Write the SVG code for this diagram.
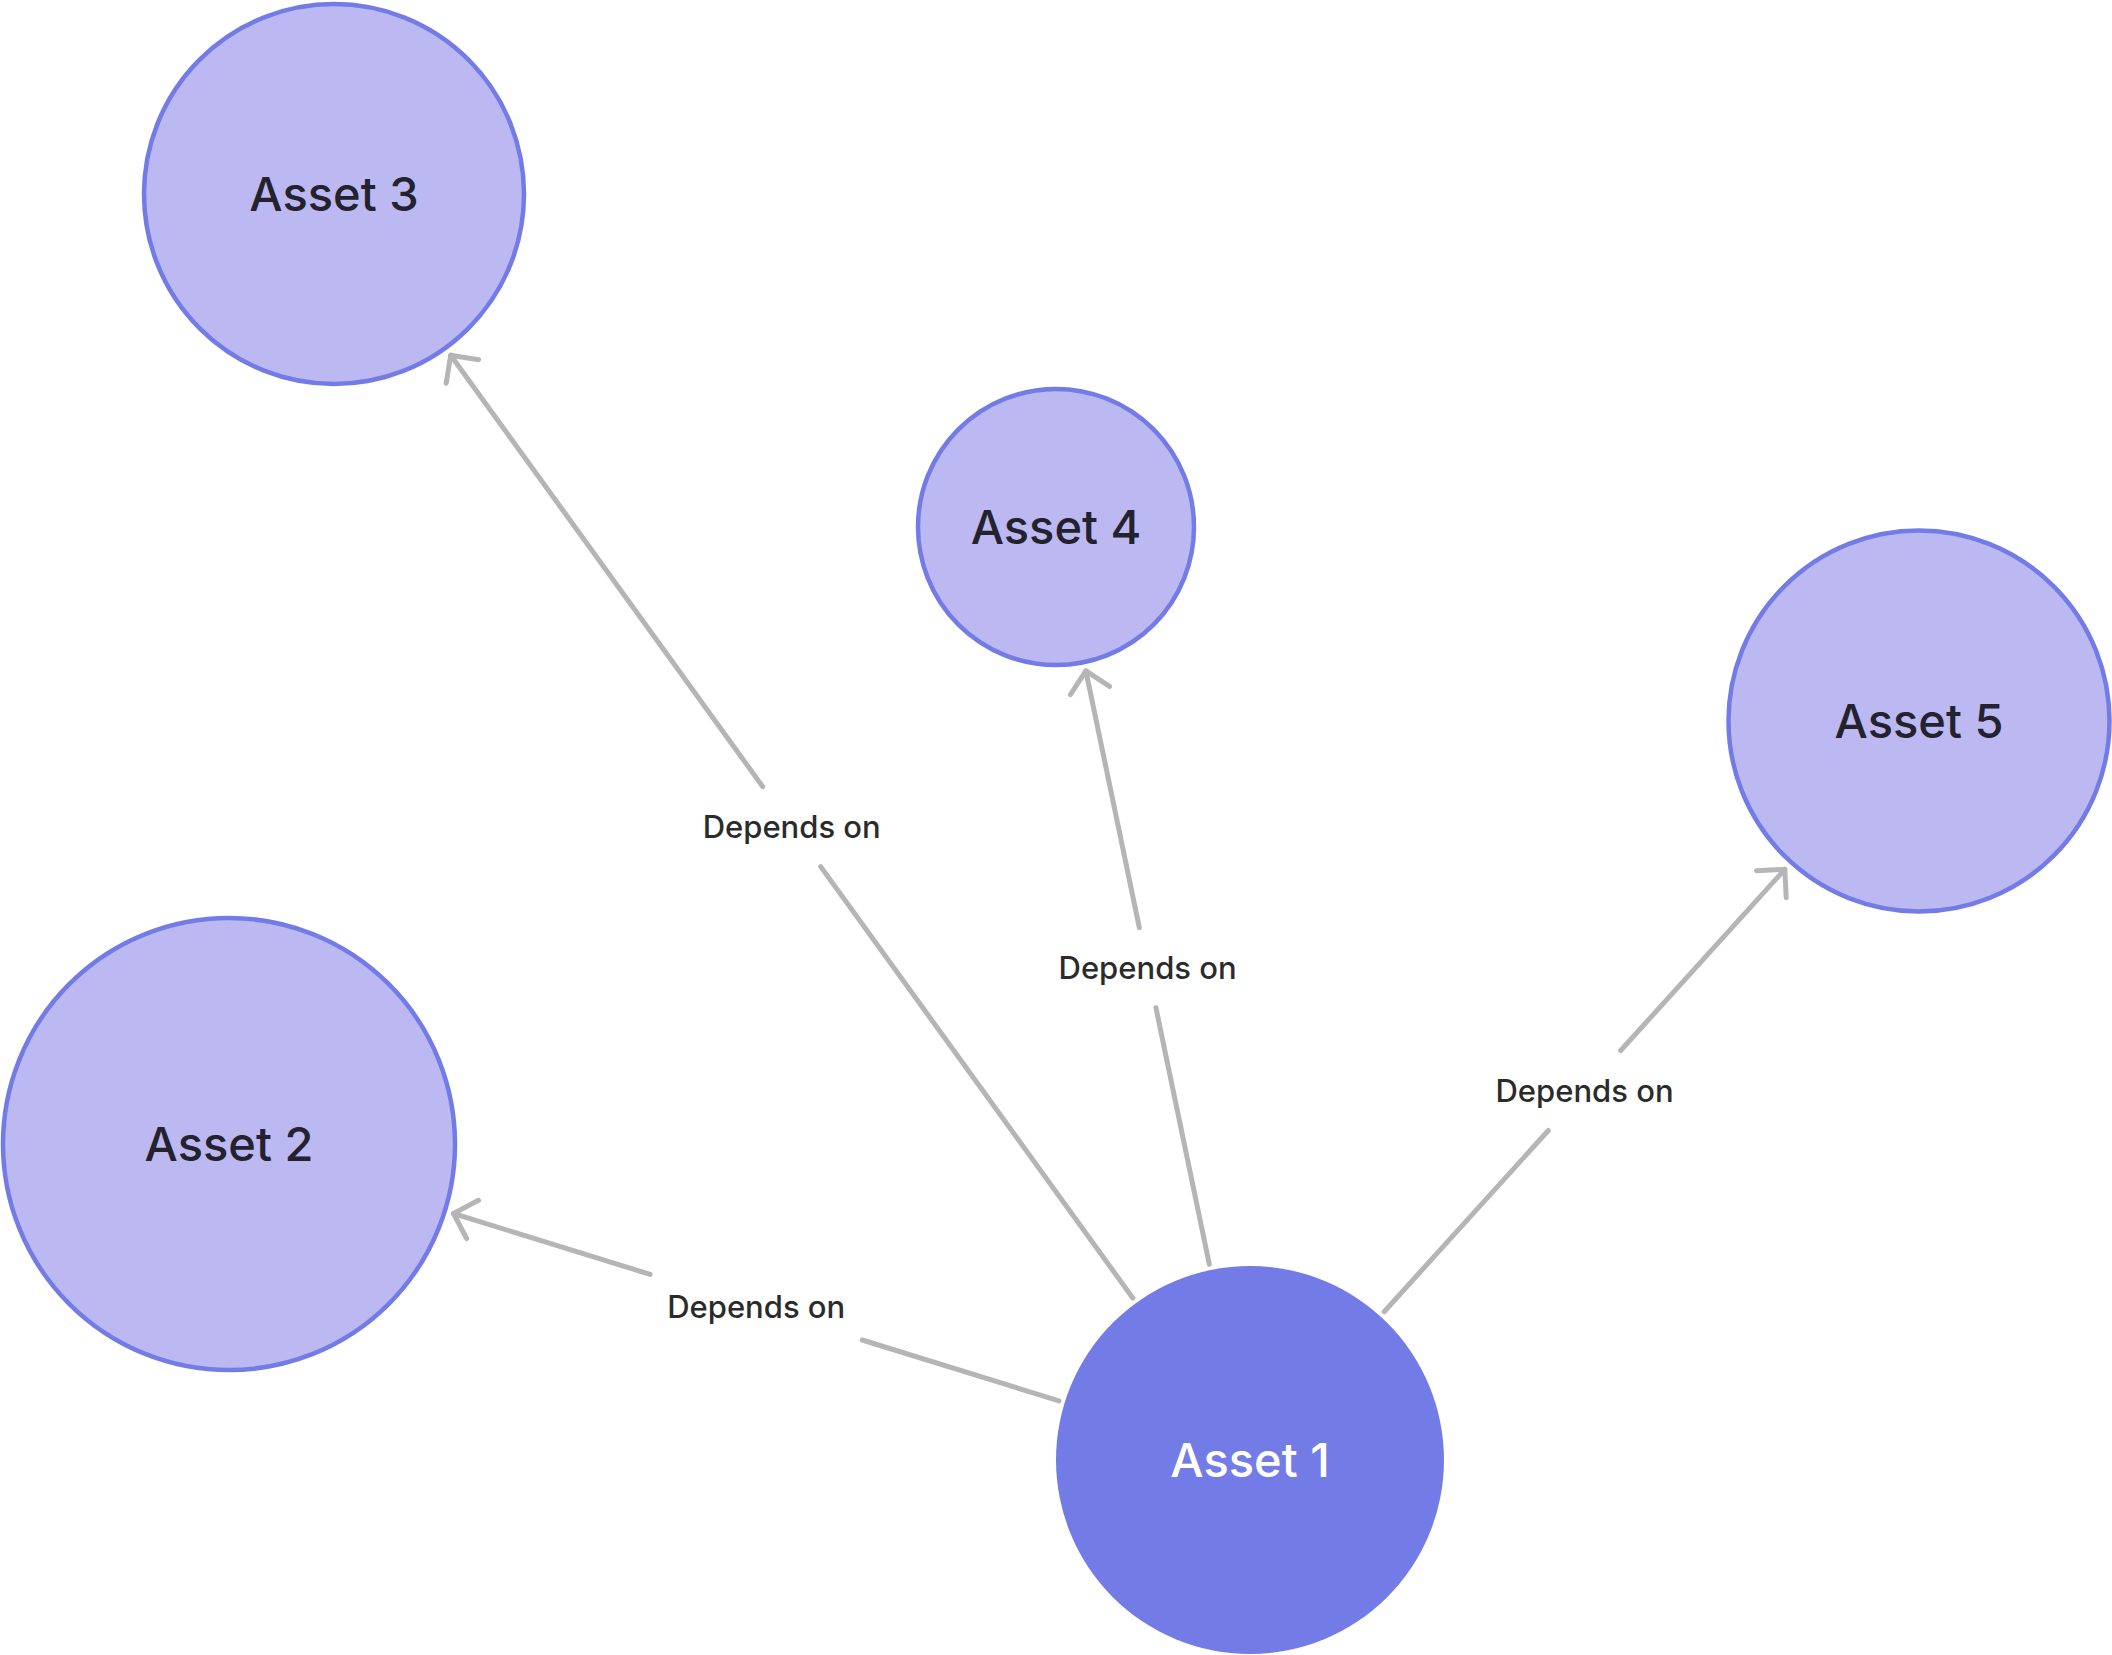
<svg xmlns="http://www.w3.org/2000/svg" width="2112" height="1655" viewBox="0 0 2112 1655">
  <style>
    .node { fill: #bcb9f2; stroke: #737ce6; stroke-width: 4.5; }
    .node-main { fill: #737ce6; stroke: none; }
    .nlabel { font-family: Inter, "Noto Sans", "Liberation Sans", sans-serif; font-size: 47px; font-weight: 500; fill: #24222e; text-anchor: middle; }
    .nlabel-main { fill: #ffffff; }
    .edge { fill: none; stroke: #b5b5b5; stroke-width: 5; stroke-linecap: round; marker-end: url(#arrow); }
    .elabel { font-family: Inter, "Noto Sans", "Liberation Sans", sans-serif; font-size: 31px; font-weight: 500; fill: #2b2b2b; text-anchor: middle; }
  </style>
  <defs>
    <marker id="arrow" markerUnits="userSpaceOnUse" markerWidth="60" markerHeight="60" refX="0" refY="0" orient="auto" overflow="visible">
      <path d="M-20,-20 L0,0 L-20,20" fill="none" stroke="#b5b5b5" stroke-width="5" stroke-linecap="round" stroke-linejoin="round"/>
    </marker>
  </defs>
  <rect width="2112" height="1655" fill="#ffffff"/>

  <g id="connectors">
    <g id="edge-1-3">
      <path class="edge" d="M1132.8,1298 L820.7,866.6 M762.7,786.6 L450.7,355.2"/>
      <text class="elabel" x="791.7" y="838">Depends on</text>
    </g>
    <g id="edge-1-4">
      <path class="edge" d="M1209.3,1264.2 L1155.9,1007.6 M1139.3,927.6 L1085.9,670.9"/>
      <text class="elabel" x="1147.6" y="978.8">Depends on</text>
    </g>
    <g id="edge-1-2">
      <path class="edge" d="M1058.9,1400.9 L862.2,1340 M650.2,1274.4 L453.5,1213.5"/>
      <text class="elabel" x="756.2" y="1318.4">Depends on</text>
    </g>
    <g id="edge-1-5">
      <path class="edge" d="M1384.2,1311.7 L1548.3,1130.5 M1620.7,1050.5 L1784.8,869.3"/>
      <text class="elabel" x="1584.5" y="1101.7">Depends on</text>
    </g>
  </g>

  <g id="asset-3">
    <circle class="node" cx="334" cy="194" r="190"/>
    <text class="nlabel" x="334" y="211">Asset 3</text>
  </g>
  <g id="asset-4">
    <circle class="node" cx="1056" cy="527" r="138"/>
    <text class="nlabel" x="1056" y="544">Asset 4</text>
  </g>
  <g id="asset-5">
    <circle class="node" cx="1919" cy="721" r="190.5"/>
    <text class="nlabel" x="1919" y="738">Asset 5</text>
  </g>
  <g id="asset-2">
    <circle class="node" cx="229" cy="1144" r="226"/>
    <text class="nlabel" x="229" y="1160.5">Asset 2</text>
  </g>
  <g id="asset-1">
    <circle class="node-main" cx="1250" cy="1460" r="194"/>
    <text class="nlabel nlabel-main" x="1250" y="1477">Asset 1</text>
  </g>
</svg>
